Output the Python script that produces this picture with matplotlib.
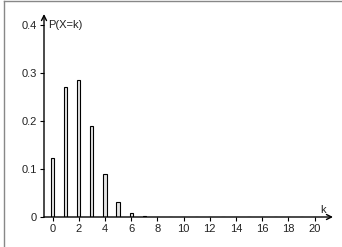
import matplotlib
matplotlib.use("Agg")
import matplotlib.pyplot as plt
from matplotlib.lines import Line2D

# values
k = list(range(0, 21))
prob = [0.122, 0.270, 0.285, 0.190, 0.090, 0.032, 0.009, 0.002, 0.0004, 0.0001,
        0, 0, 0, 0, 0, 0, 0, 0, 0, 0, 0]
xticks = list(range(0, 21, 2))
yticks = [0, 0.1, 0.2, 0.3, 0.4]
ytick_labels = ["0", "0.1", "0.2", "0.3", "0.4"]

plt.rcParams['font.family'] = ['Liberation Sans', 'DejaVu Sans']

W, H = 342, 247
fig = plt.figure(figsize=(W / 100, H / 100), dpi=100)
ax = fig.add_axes([44 / W, 30 / H, (333 - 44) / W, (217 - 14) / H])

ax.bar(k, prob, width=0.25, color='#e4e4e4', edgecolor='black', linewidth=0.8)

ax.set_xlim(-0.65, 21.4)
ax.set_ylim(0, 0.423)
for s in ax.spines.values():
    s.set_visible(False)

# axes with arrow heads
ax.annotate('', xy=(1, 0), xytext=(0, 0), xycoords='axes fraction',
            arrowprops=dict(arrowstyle='->', lw=1.0, color='black',
                            shrinkA=0, shrinkB=0, mutation_scale=9))
ax.annotate('', xy=(0, 1), xytext=(0, 0), xycoords='axes fraction',
            arrowprops=dict(arrowstyle='->', lw=1.0, color='black',
                            shrinkA=0, shrinkB=0, mutation_scale=9))

ax.set_xticks(xticks)
ax.set_yticks(yticks)
ax.set_yticklabels(ytick_labels)
ax.tick_params(axis='both', direction='out', length=3, width=0.8,
               labelsize=8, pad=2, color='black', labelcolor='#222222')

ax.text(0.015, 0.4, 'P(X=k)', transform=ax.get_yaxis_transform(),
        fontsize=8, ha='left', va='center', color='#222222')
ax.text(20.65, 0.005, 'k', fontsize=8, ha='center', va='bottom', color='#222222')

# grey frame (top and left edges)
fig.add_artist(Line2D([4 / W, 4 / W], [0, 1 - 1.5 / H], transform=fig.transFigure,
                      color='#888888', lw=1.0))
fig.add_artist(Line2D([4 / W, 1], [1 - 1.5 / H, 1 - 1.5 / H], transform=fig.transFigure,
                      color='#888888', lw=1.0))

fig.savefig('out.png', dpi=100)
